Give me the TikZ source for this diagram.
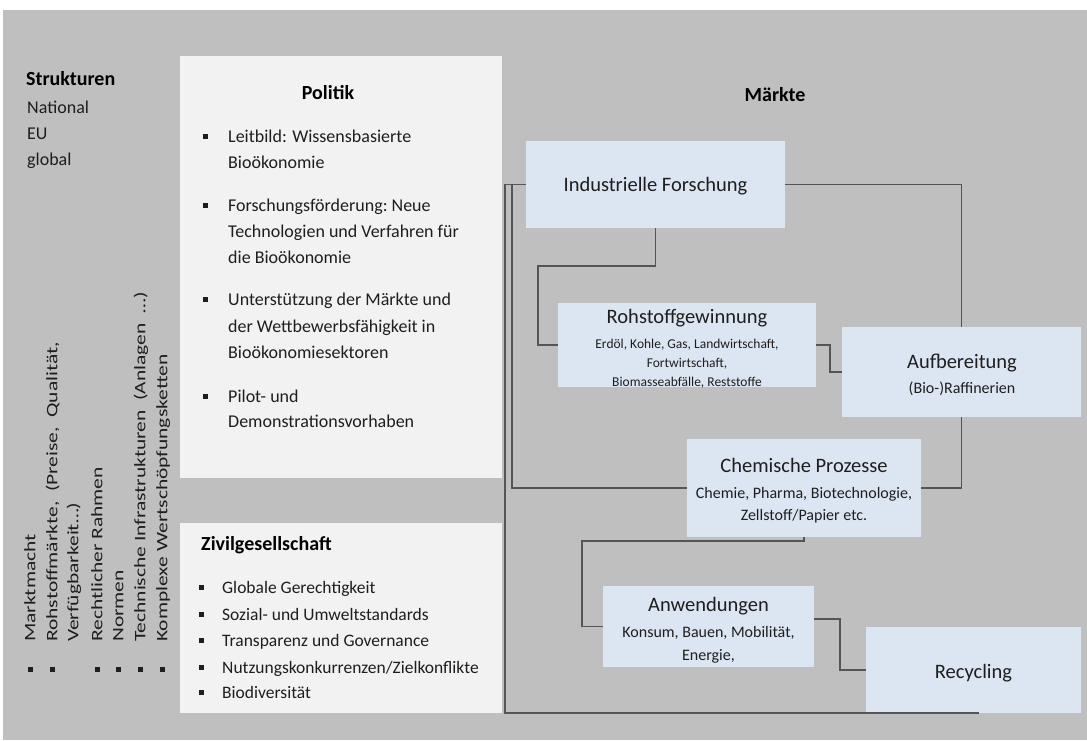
\documentclass[tikz,border=0pt]{standalone}
\usepackage{fontspec}
\setmainfont{Carlito}
\usetikzlibrary{calc}
\definecolor{bggray}{RGB}{191,191,191}
\definecolor{panel}{RGB}{242,242,242}
\definecolor{mbox}{RGB}{220,230,242}
\definecolor{lcol}{RGB}{85,85,85}
\definecolor{tcol}{RGB}{30,30,30}
\begin{document}
\begin{tikzpicture}[x=1pt,y=-1pt,
 mkt/.style={fill=mbox, draw=none, inner sep=0pt},
 conn/.style={draw=lcol, line width=1.4pt},
 ttl/.style={font=\fontsize{20.5}{24}\selectfont, text=tcol, inner sep=0pt, anchor=mid, yshift=-4pt},
 subt/.style={font=\fontsize{16}{19}\selectfont, text=tcol, inner sep=0pt, anchor=mid, yshift=-3pt},
 smallt/.style={font=\fontsize{13.5}{16}\selectfont, text=tcol, inner sep=0pt, anchor=mid, yshift=-3pt},
 body/.style={font=\fontsize{18}{22}\selectfont, text=tcol, inner sep=0pt, anchor=mid west, yshift=-4pt},
 zbody/.style={font=\fontsize{17.5}{22}\selectfont, text=tcol, inner sep=0pt, anchor=mid west, yshift=-4pt},
 head/.style={font=\bfseries\fontsize{20}{24}\selectfont, text=black, inner sep=0pt, yshift=-4pt},
 rot/.style={font=\fontsize{16}{19}\selectfont, text=tcol, inner sep=0pt, anchor=mid west, rotate=90},
 bul/.style={fill=tcol, minimum size=5pt, inner sep=0pt, draw=none},
]
\useasboundingbox (0,0) rectangle (1087,740);
\fill[white] (0,0) rectangle (1087,740);
\fill[bggray] (3,10) rectangle (1087,740);
\fill[panel] (180,56) rectangle (502,478);
\fill[panel] (180,523) rectangle (502,713);

% market boxes
\node[mkt, minimum width=259pt, minimum height=87pt] (IF) at (655.5,184.5) {};
\node[mkt, minimum width=258pt, minimum height=84pt] (RG) at (687,345) {};
\node[mkt, minimum width=239pt, minimum height=90pt] (AU) at (961.5,372) {};
\node[mkt, minimum width=234pt, minimum height=98pt] (CP) at (804,488) {};
\node[mkt, minimum width=211pt, minimum height=81pt] (AN) at (708.5,626.5) {};
\node[mkt, minimum width=215pt, minimum height=86pt] (RC) at (973.5,670) {};

% connectors
\coordinate (o1) at (505,713);
\coordinate (o2) at (979,713);
\coordinate (i1) at (512,488);
\coordinate (r1) at (538,266);
\coordinate (a1) at (830,358);
\coordinate (c1) at (582,541);
\coordinate (w1) at (840,645);
\draw[conn] (IF.west) -| (o1) -- (o2);
\draw[conn] (IF.west) -| (i1) -- (CP.west);
\draw[conn] (IF.south) |- (r1) |- (RG.west);
\draw[conn] (RG.east) -| (a1) |- (AU.west);
\draw[conn] (IF.east) -| (AU.north);
\draw[conn] (AU.south) |- (CP.east);
\draw[conn] (CP.south) |- (c1) |- (AN.west);
\draw[conn] ([yshift=7.5pt]AN.east) -| (w1) |- (RC.west);

% market texts
\node[ttl] (IFt) at (655.5,185) {Industrielle Forschung};
\node[ttl] (RGt) at (687,317) {Rohstoffgewinnung};
\node[smallt] (RG1) at (687,343) {Erdöl, Kohle, Gas, Landwirtschaft,};
\node[smallt] (RG2) at (687,362) {Fortwirtschaft,};
\node[smallt] (RG3) at (687,381) {Biomasseabfälle, Reststoffe};
\node[ttl] (AUt) at (962,362) {Aufbereitung};
\node[subt] (AU1) at (962,388) {(Bio-)Raffinerien};
\node[ttl] (CPt) at (804,466) {Chemische Prozesse};
\node[subt] (CP1) at (804,493) {Chemie, Pharma, Biotechnologie,};
\node[subt] (CP2) at (804,515) {Zellstoff/Papier etc.};
\node[ttl] (ANt) at (708.5,605) {Anwendungen};
\node[subt] (AN1) at (708.5,632) {Konsum, Bauen, Mobilität,};
\node[subt] (AN2) at (708.5,655) {Energie,};
\node[ttl] (RCt) at (973.5,672) {Recycling};
\node[head, anchor=mid] (MK) at (775,95) {Märkte};

% Strukturen
\node[head, anchor=mid west] (S0) at (26,79) {Strukturen};
\node[body] (S1) at (27,107) {National};
\node[body] (S2) at (27,133) {EU};
\node[body] (S3) at (27,159) {global};

% rotated list
\node[rot] (k1) at (33,642) {\scalebox{1.34}[1]{Marktmacht}};
\node[rot] (k2) at (55,642) {\scalebox{1.34}[1]{Rohstoffmärkte,\ \ (Preise,\ \ Qualität,}};
\node[rot] (k3) at (76,642) {\scalebox{1.34}[1]{Verfügbarkeit…)}};
\node[rot] (k4) at (100,642) {\scalebox{1.34}[1]{Rechtlicher Rahmen}};
\node[rot] (k5) at (121,642) {\scalebox{1.34}[1]{Normen}};
\node[rot] (k6) at (143,642) {\scalebox{1.34}[1]{Technische Infrastrukturen\ \ (Anlagen\ \ …)}};
\node[rot] (k7) at (165,642) {\scalebox{1.34}[1]{Komplexe Wertschöpfungsketten}};
\node[bul] (kb1) at (30,669) {};
\node[bul] (kb2) at (52,669) {};
\node[bul] (kb4) at (97,669) {};
\node[bul] (kb5) at (118,669) {};
\node[bul] (kb6) at (140,669) {};
\node[bul] (kb7) at (162,669) {};

% Politik
\node[head, anchor=mid] (P0) at (328,93) {Politik};
\node[bul] (pb1) at (205,136) {};
\node[body] (p1a) at (228,136) {Leitbild: Wissensbasierte};
\node[body] (p1b) at (228,162) {Bioökonomie};
\node[bul] (pb2) at (205,205) {};
\node[body] (p2a) at (228,205) {Forschungsförderung:\ Neue};
\node[body] (p2b) at (228,231) {Technologien und Verfahren für};
\node[body] (p2c) at (228,257) {die Bioökonomie};
\node[bul] (pb3) at (205,299) {};
\node[body] (p3a) at (228,299) {Unterstützung der Märkte und};
\node[body] (p3b) at (228,326) {der Wettbewerbsfähigkeit\ in};
\node[body] (p3c) at (228,352) {Bioökonomiesektoren};
\node[bul] (pb4) at (205,396) {};
\node[body] (p4a) at (228,396) {Pilot- und};
\node[body] (p4b) at (228,421) {Demonstrationsvorhaben};

% Zivilgesellschaft
\node[head, anchor=mid west] (Z0) at (201,544) {Zivilgesellschaft};
\node[bul] (zb1) at (201,587) {};
\node[zbody] (z1) at (222,587) {Globale Gerechtigkeit};
\node[bul] (zb2) at (201,614) {};
\node[zbody] (z2) at (222,614) {Sozial- und Umweltstandards};
\node[bul] (zb3) at (201,640) {};
\node[zbody] (z3) at (222,640) {Transparenz und Governance};
\node[bul] (zb4) at (201,667) {};
\node[zbody] (z4) at (222,667) {Nutzungskonkurrenzen/Zielkonflikte};
\node[bul] (zb5) at (201,692) {};
\node[zbody] (z5) at (222,692) {Biodiversität};
\end{tikzpicture}
\end{document}
